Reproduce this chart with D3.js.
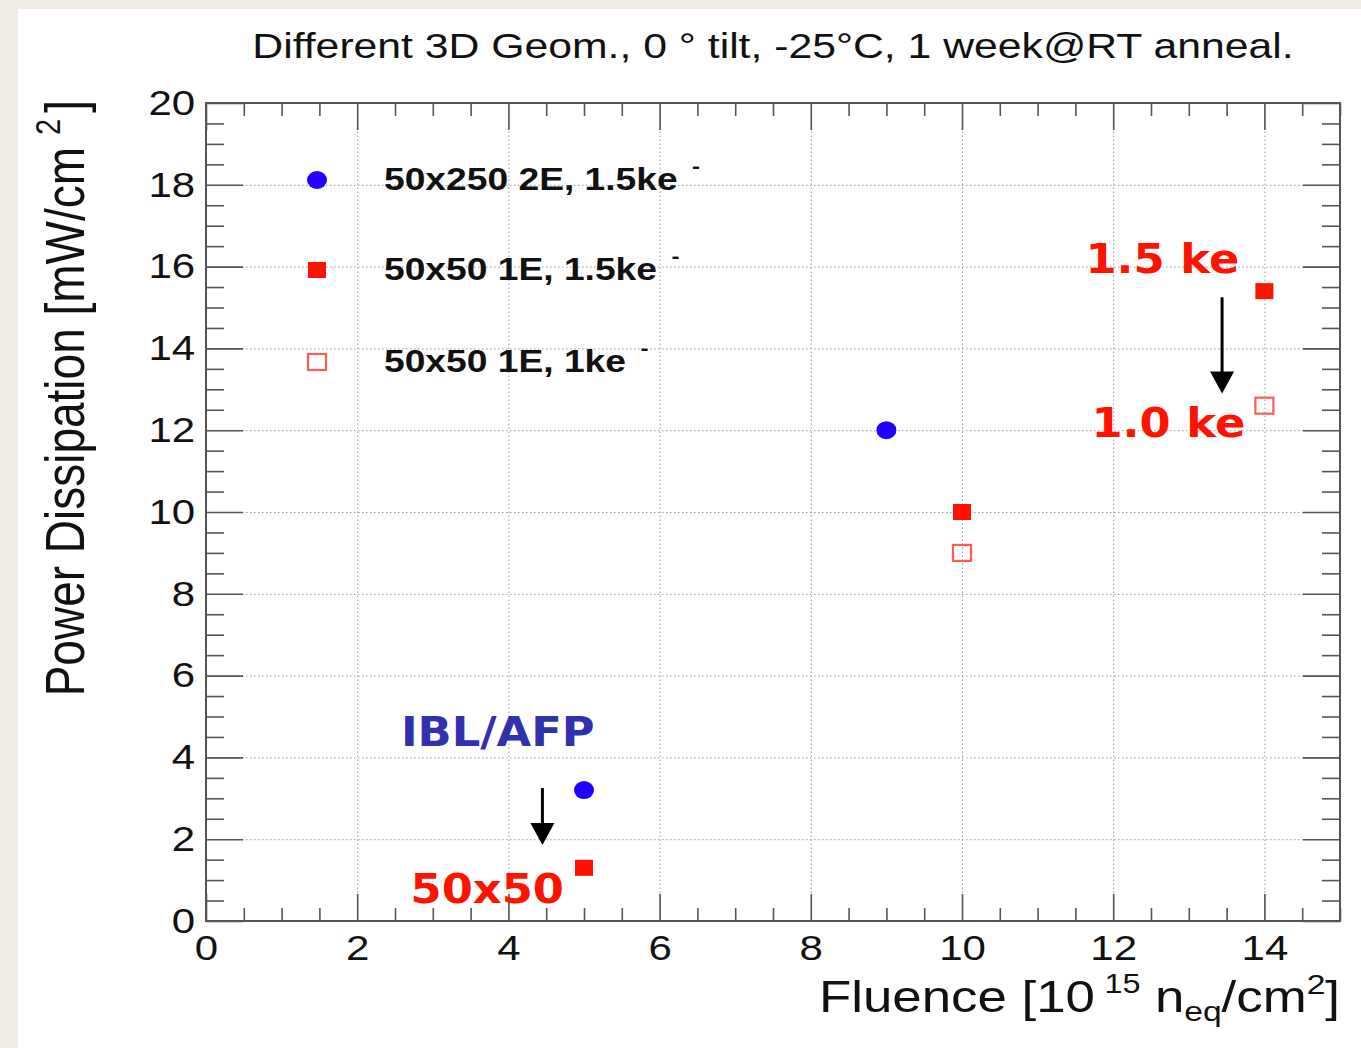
<!DOCTYPE html>
<html>
<head>
<meta charset="utf-8">
<script src="https://cdn.jsdelivr.net/npm/d3@7"></script>
<style>
  body { margin: 0; background: #efebe5; }
  svg { display: block; }
</style>
</head>
<body>
<div id="chart"></div>
<script>
// values
const xTicks = [0, 2, 4, 6, 8, 10, 12, 14];
const yTicks = [0, 2, 4, 6, 8, 10, 12, 14, 16, 18, 20];

const seriesNames = ["50x250 2E, 1.5ke", "50x50 1E, 1.5ke", "50x50 1E, 1ke"];

const fluence250_15 = [5, 9];
const power250_15 = [3.2, 12.0];

const fluence50_15 = [5, 10, 14];
const power50_15 = [1.3, 10.0, 15.4];

const fluence50_10 = [10, 14];
const power50_10 = [9.0, 12.6];

// annotations (text + data position)
const noteText = ["1.5 ke", "1.0 ke", "IBL/AFP", "50x50"];
const noteX = [12.65, 12.73, 3.86, 3.72];
const noteY = [15.85, 11.83, 4.28, 0.44];
const arrowX = [13.44, 4.45];
const arrowFrom = [15.25, 3.25];
const arrowTo = [12.9, 1.86];

const W = 1361, H = 1048;
const pLeft = 206, pRight = 1340, pTop = 103, pBottom = 921;
const SX = 1.2;  // the original picture is stretched sideways
const FONT = "'Liberation Sans', Arial, Helvetica, sans-serif";
const BOLD = "'DejaVu Sans', Verdana, sans-serif";
const RED = "#ff1200", BLUE = "#2200ff";

const svg = d3.select("#chart").append("svg")
    .attr("width", W)
    .attr("height", H);

svg.append("rect").attr("width", W).attr("height", H).attr("fill", "#efebe5");
svg.append("rect").attr("x", 18).attr("y", 9).attr("width", W - 18).attr("height", H - 9).attr("fill", "#fff");

const x = d3.scaleLinear().domain([0, 15]).range([pLeft, pRight]);
const y = d3.scaleLinear().domain([0, 20]).range([pBottom, pTop]);

const xMinor = d3.range(0, 15.01, 0.5).filter(v => v % 2 !== 0);
const yMinor = d3.range(0, 20.01, 0.5).filter(v => v % 2 !== 0);

// grid
const gridX = svg.append("g")
    .attr("transform", "translate(0," + pBottom + ")")
    .call(d3.axisBottom(x).tickValues(xTicks.filter(v => v > 0)).tickSize(-(pBottom - pTop)).tickFormat(""));
const gridY = svg.append("g")
    .attr("transform", "translate(" + pLeft + ",0)")
    .call(d3.axisLeft(y).tickValues(yTicks.filter(v => v > 0 && v < 20)).tickSize(-(pRight - pLeft)).tickFormat(""));
[gridX, gridY].forEach(g => {
    g.select(".domain").remove();
    g.selectAll("line").attr("stroke", "#9a9a9a").attr("stroke-width", 1).attr("stroke-dasharray", "1.5,2.5");
});

// ticks
function tickStyle(g) {
    g.select(".domain").remove();
    g.selectAll("line").attr("stroke", "#555").attr("stroke-width", 1.6);
}

const xAxis = svg.append("g")
    .attr("transform", "translate(0," + pBottom + ")")
    .call(d3.axisBottom(x).tickValues(xTicks).tickSize(-27).tickPadding(14).tickFormat(d3.format("d")));
tickStyle(xAxis);
xAxis.attr("font-size", 35).attr("font-family", FONT);
xAxis.selectAll("text").attr("fill", "#111").attr("transform", "scale(" + SX + ",1)");

svg.append("g").attr("transform", "translate(0," + pBottom + ")")
    .call(d3.axisBottom(x).tickValues(xMinor).tickSize(-13).tickFormat("")).call(tickStyle);
svg.append("g").attr("transform", "translate(0," + pTop + ")")
    .call(d3.axisTop(x).tickValues(xTicks).tickSize(-27).tickFormat("")).call(tickStyle);
svg.append("g").attr("transform", "translate(0," + pTop + ")")
    .call(d3.axisTop(x).tickValues(xMinor).tickSize(-13).tickFormat("")).call(tickStyle);

const yAxis = svg.append("g")
    .attr("transform", "translate(" + pLeft + ",0)")
    .call(d3.axisLeft(y).tickValues(yTicks).tickSize(-37).tickPadding(9).tickFormat(d3.format("d")));
tickStyle(yAxis);
yAxis.attr("font-size", 35).attr("font-family", FONT);
yAxis.selectAll("text").attr("fill", "#111").attr("transform", "scale(" + SX + ",1)");

svg.append("g").attr("transform", "translate(" + pLeft + ",0)")
    .call(d3.axisLeft(y).tickValues(yMinor).tickSize(-18).tickFormat("")).call(tickStyle);
svg.append("g").attr("transform", "translate(" + pRight + ",0)")
    .call(d3.axisRight(y).tickValues(yTicks).tickSize(-37).tickFormat("")).call(tickStyle);
svg.append("g").attr("transform", "translate(" + pRight + ",0)")
    .call(d3.axisRight(y).tickValues(yMinor).tickSize(-18).tickFormat("")).call(tickStyle);

// frame
svg.append("rect")
    .attr("x", pLeft).attr("y", pTop)
    .attr("width", pRight - pLeft).attr("height", pBottom - pTop)
    .attr("fill", "none").attr("stroke", "#555").attr("stroke-width", 2);

// title
svg.append("text")
    .attr("transform", "translate(" + ((pLeft + pRight) / 2) + ",58) scale(" + SX + ",1)")
    .attr("text-anchor", "middle")
    .attr("font-family", FONT).attr("font-size", 35.6).attr("fill", "#111")
    .text("Different 3D Geom., 0 \u00b0 tilt, -25\u00b0C, 1 week@RT anneal.");

// x label
const xl = svg.append("text")
    .attr("transform", "translate(1340,1012) scale(" + SX + ",1)")
    .attr("text-anchor", "end")
    .attr("font-family", FONT).attr("font-size", 44).attr("fill", "#111");
xl.append("tspan").text("Fluence [10");
xl.append("tspan").attr("dx", 8).attr("dy", -19).attr("font-size", 27).text("15");
xl.append("tspan").attr("dx", 12).attr("dy", 19).text("n");
xl.append("tspan").attr("dy", 9).attr("font-size", 28).text("eq");
xl.append("tspan").attr("dy", -9).text("/cm");
xl.append("tspan").attr("dy", -18).attr("font-size", 28).text("2");
xl.append("tspan").attr("dy", 18).text("]");

// y label
const yl = svg.append("text")
    .attr("transform", "translate(84,100) rotate(-90) scale(1," + SX + ")")
    .attr("text-anchor", "end")
    .attr("font-family", FONT).attr("font-size", 46).attr("fill", "#111");
yl.append("tspan").text("Power Dissipation [mW/cm");
yl.append("tspan").attr("dx", 12).attr("dy", -20).attr("font-size", 29).text("2");
yl.append("tspan").attr("dx", 6).attr("dy", 20).text("]");

// markers
function circles(xs, ys) {
    svg.append("g").selectAll("ellipse")
        .data(xs.map((d, i) => [d, ys[i]]))
        .enter().append("ellipse")
        .attr("cx", d => x(d[0])).attr("cy", d => y(d[1]))
        .attr("rx", 10).attr("ry", 9)
        .attr("fill", BLUE);
}
function squares(xs, ys, open) {
    svg.append("g").selectAll("rect")
        .data(xs.map((d, i) => [d, ys[i]]))
        .enter().append("rect")
        .attr("x", d => x(d[0]) - 9).attr("y", d => y(d[1]) - 8)
        .attr("width", 18).attr("height", 16)
        .attr("fill", open ? "none" : RED)
        .attr("stroke", open ? "#ff5a5a" : "none")
        .attr("stroke-width", 2.2);
}
circles(fluence250_15, power250_15);
squares(fluence50_15, power50_15, false);
squares(fluence50_10, power50_10, true);

// legend
const legendRows = [190, 280, 372];
const legend = svg.append("g").selectAll("g")
    .data(seriesNames)
    .enter().append("g")
    .attr("transform", (d, i) => "translate(0," + legendRows[i] + ")");
legend.each(function (d, i) {
    const g = d3.select(this);
    if (i === 0) {
        g.append("ellipse").attr("cx", 317).attr("cy", -10).attr("rx", 10).attr("ry", 9).attr("fill", BLUE);
    } else {
        g.append("rect").attr("x", 308).attr("y", -18).attr("width", 18).attr("height", 16)
            .attr("fill", i === 1 ? RED : "none")
            .attr("stroke", i === 1 ? "none" : "#ff5a5a").attr("stroke-width", 2.2);
    }
    const t = g.append("text")
        .attr("transform", "translate(384,0) scale(" + SX + ",1)")
        .attr("font-family", FONT).attr("font-weight", "bold").attr("font-size", 31).attr("fill", "#111");
    t.append("tspan").text(d);
    t.append("tspan").attr("dx", 12).attr("dy", -17).attr("font-size", 20).text("-");
});

// annotations
const noteColor = [RED, RED, "#3131b0", RED];
svg.append("g").selectAll("text")
    .data(noteText)
    .enter().append("text")
    .attr("transform", (d, i) => "translate(" + x(noteX[i]) + "," + y(noteY[i]) + ") scale(1.12,1)")
    .attr("text-anchor", "middle")
    .attr("font-family", BOLD).attr("font-weight", "bold").attr("font-size", 40)
    .attr("fill", (d, i) => noteColor[i])
    .text(d => d);

const arrows = svg.append("g").selectAll("g")
    .data(arrowX)
    .enter().append("g");
arrows.append("line")
    .attr("x1", d => x(d)).attr("x2", d => x(d))
    .attr("y1", (d, i) => y(arrowFrom[i])).attr("y2", (d, i) => y(arrowTo[i]) - 15)
    .attr("stroke", "#000").attr("stroke-width", 3);
arrows.append("path")
    .attr("d", (d, i) => {
        const ax = x(d), ay = y(arrowTo[i]);
        return "M" + (ax - 12) + "," + (ay - 22) + "L" + (ax + 12) + "," + (ay - 22) + "L" + ax + "," + ay + "Z";
    })
    .attr("fill", "#000");
</script>
</body>
</html>
